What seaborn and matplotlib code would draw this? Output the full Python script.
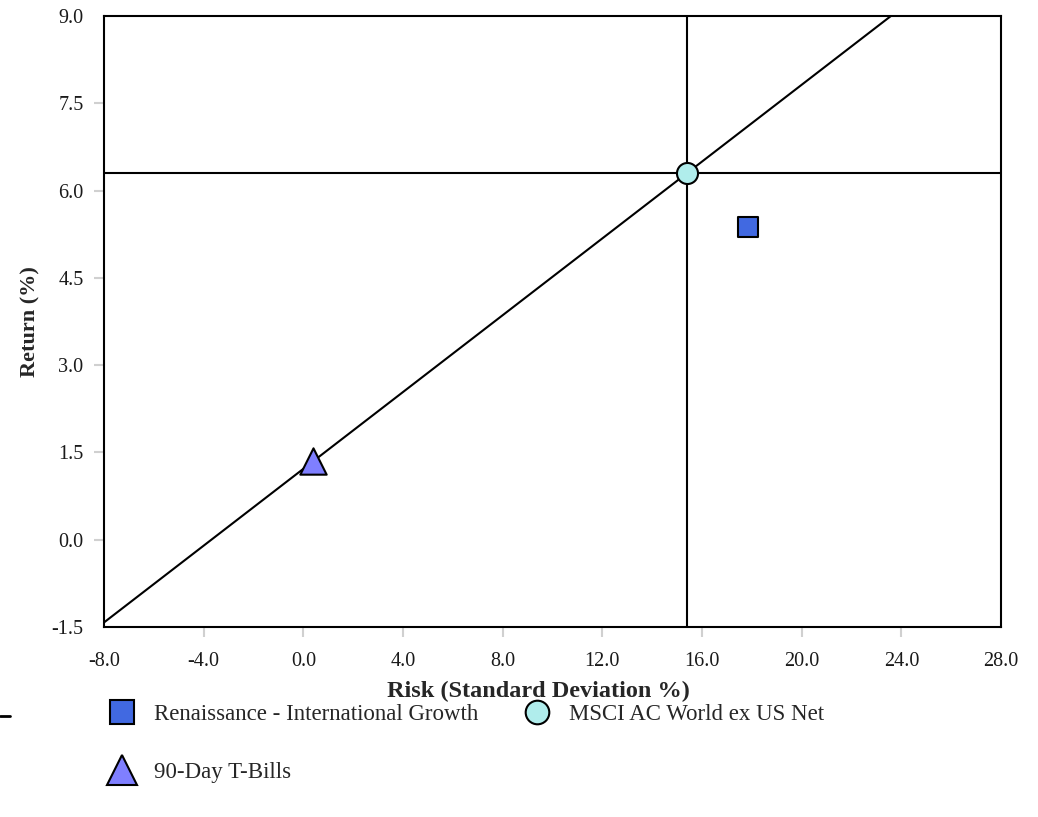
import matplotlib
matplotlib.use("Agg")
import matplotlib.pyplot as plt
import seaborn as sns
import pandas as pd
from matplotlib.lines import Line2D

names = ["Renaissance - International Growth", "MSCI AC World ex US Net", "90-Day T-Bills"]
risk = [17.85, 15.4, 0.4]
ret = [5.38, 6.30, 1.35]
markers = ["s", "o", "^"]
colors = ["#4169E1", "#B0EDEC", "#7F7FFF"]
sizes = [215, 230, 360]
xticks = [-8, -4, 0, 4, 8, 12, 16, 20, 24, 28]
yticks = [-1.5, 0.0, 1.5, 3.0, 4.5, 6.0, 7.5, 9.0]

df = pd.DataFrame({"name": names, "risk": risk, "ret": ret})

sns.set_theme(style="white")
plt.rcParams["font.family"] = ["Liberation Serif", "DejaVu Serif"]

fig = plt.figure(figsize=(10.38, 8.17), dpi=100)
ax = fig.add_axes([104/1038, 1 - 627/817, (1001-104)/1038, (627-16)/817])

# market line through T-Bills and benchmark
ax.axline((risk[2], ret[2]), (risk[1], ret[1]), color="black", lw=1.5, zorder=2)
ax.axvline(risk[1], color="black", lw=1.5, zorder=2)
ax.axhline(ret[1], color="black", lw=1.5, zorder=2)

for i in range(3):
    sns.scatterplot(data=df.iloc[[i]], x="risk", y="ret", marker=markers[i], s=sizes[i],
                    color=colors[i], edgecolor="black", linewidth=1.5, ax=ax, zorder=3)

ax.set_xlim(-8, 28)
ax.set_ylim(-1.5, 9.0)
ax.set_xticks(xticks)
ax.set_yticks(yticks)
ax.set_xticklabels([f"{v:.1f}" for v in xticks], fontsize=14.5)
ax.set_yticklabels([f"{v:.1f}" for v in yticks], fontsize=14.5)
ax.tick_params(axis="x", direction="out", length=7, width=1.5, color="#d0d0d0",
               pad=11, bottom=True, labelcolor="#1a1a1a")
ax.tick_params(axis="y", direction="out", length=7, width=1.5, color="#d0d0d0",
               pad=7.7, left=True, labelcolor="#1a1a1a")
for t in [ax.xaxis.get_major_ticks()[0], ax.xaxis.get_major_ticks()[-1],
          ax.yaxis.get_major_ticks()[0], ax.yaxis.get_major_ticks()[-1]]:
    t.tick1line.set_visible(False)
for s in ax.spines.values():
    s.set_color("black")
    s.set_linewidth(1.5)
ax.set_xlabel("Risk (Standard Deviation %)", fontsize=17.5, fontweight="bold", labelpad=7, x=0.484)
ax.set_ylabel("Return (%)", fontsize=16, fontweight="bold", labelpad=8)

handles = []
for i in [0, 2, 1]:
    handles.append(Line2D([], [], linestyle="none", marker=markers[i], markersize=17 if i != 2 else 21,
                          markerfacecolor=colors[i], markeredgecolor="black", markeredgewidth=1.5,
                          label=names[i]))
fig.legend(handles=handles, loc="upper left", bbox_to_anchor=(100/1038, 1 - 699/817), ncol=2,
           frameon=False, fontsize=16.5, handletextpad=0.65, columnspacing=1.82,
           labelspacing=1.65, handlelength=1.5, borderpad=0.2, borderaxespad=0)

fig.add_artist(Line2D([0, 10/1038], [1 - 716/817, 1 - 716/817], color="black", lw=2))

fig.savefig("out.png", dpi=100)
